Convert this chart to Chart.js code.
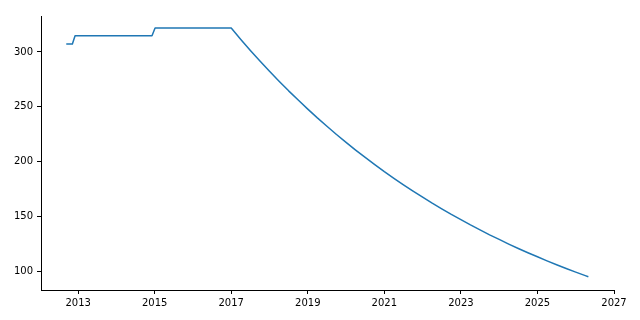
<!DOCTYPE html>
<html>
<head>
<meta charset="utf-8">
<script src="https://cdn.jsdelivr.net/npm/chart.js@4"></script>
<style>
html,body{margin:0;padding:0;background:#fff;}
canvas{display:block;}
</style>
</head>
<body>
<canvas id="c" width="640" height="320"></canvas>
<script>
const years = [2012.69, 2012.85, 2012.92, 2014.93, 2015.01,
  2017.0, 2017.25, 2017.5, 2017.75, 2018.0, 2018.25, 2018.5, 2018.75,
  2019.0, 2019.25, 2019.5, 2019.75, 2020.0, 2020.25, 2020.5, 2020.75,
  2021.0, 2021.25, 2021.5, 2021.75, 2022.0, 2022.25, 2022.5, 2022.75,
  2023.0, 2023.25, 2023.5, 2023.75, 2024.0, 2024.25, 2024.5, 2024.75,
  2025.0, 2025.25, 2025.5, 2025.75, 2026.0, 2026.25, 2026.33];
const values = [307.3, 307.3, 314.8, 314.8, 321.7,
  321.7, 311.4, 301.4, 291.8, 282.4, 273.4, 264.6, 256.2,
  248.0, 240.0, 232.4, 224.9, 217.7, 210.7, 204.0, 197.5,
  191.1, 185.0, 179.1, 173.4, 167.8, 162.4, 157.3, 152.2,
  147.4, 142.6, 138.1, 133.6, 129.4, 125.2, 121.2, 117.3,
  113.6, 109.9, 106.4, 103.0, 99.7, 96.5, 95.5];
const xTicks = [2013, 2015, 2017, 2019, 2021, 2023, 2025, 2027];
const yTicks = [100, 150, 200, 250, 300];

const points = years.map((x, i) => ({x: x, y: values[i]}));

Chart.defaults.font.family = "'DejaVu Sans', sans-serif";
Chart.defaults.font.size = 10;
Chart.defaults.color = '#000';

new Chart(document.getElementById('c'), {
  type: 'line',
  data: {
    datasets: [{
      data: points,
      borderColor: '#1f77b4',
      borderWidth: 1.5,
      pointRadius: 0,
      fill: false,
      tension: 0,
      borderJoinStyle: 'round',
      borderCapStyle: 'butt'
    }]
  },
  options: {
    responsive: false,
    animation: false,
    events: [],
    layout: {padding: {top: 16, right: 26, left: 0, bottom: 0}},
    plugins: {legend: {display: false}, tooltip: {enabled: false}},
    scales: {
      x: {
        type: 'linear',
        min: 2012.03,
        max: 2027,
        afterBuildTicks: s => { s.ticks = xTicks.map(v => ({value: v})); },
        afterFit: s => { s.height = 30; },
        grid: {display: true, drawOnChartArea: false, drawTicks: true, tickLength: 4, color: '#000', lineWidth: 1},
        border: {display: true, color: '#000', width: 1},
        ticks: {padding: 3, maxRotation: 0, autoSkip: false, callback: v => String(v)}
      },
      y: {
        type: 'linear',
        min: 83.4,
        max: 332.7,
        afterBuildTicks: s => { s.ticks = yTicks.map(v => ({value: v})); },
        afterFit: s => { s.width = 41; },
        grid: {display: true, drawOnChartArea: false, drawTicks: true, tickLength: 4, color: '#000', lineWidth: 1},
        border: {display: true, color: '#000', width: 1},
        ticks: {padding: 4, autoSkip: false, callback: v => String(v)}
      }
    }
  }
});
</script>
</body>
</html>
